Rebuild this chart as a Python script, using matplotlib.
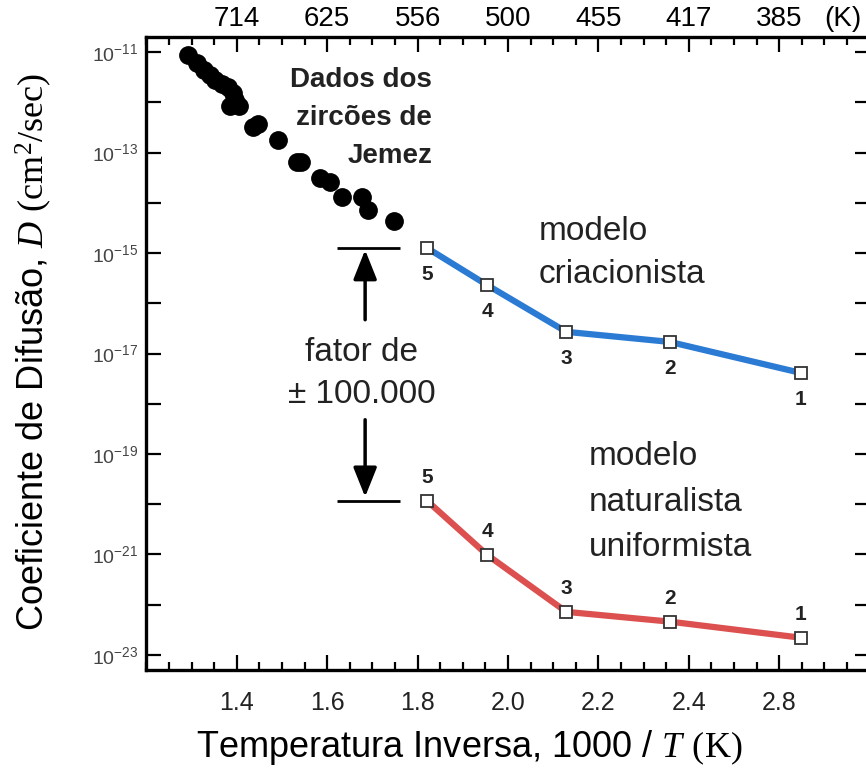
import matplotlib
matplotlib.use('Agg')
import matplotlib.pyplot as plt
from matplotlib.ticker import FixedLocator, MultipleLocator, NullLocator

plt.rcParams['font.family'] = ['Liberation Sans', 'DejaVu Sans']
plt.rcParams['mathtext.fontset'] = 'custom'
plt.rcParams['mathtext.rm'] = 'Liberation Serif'
plt.rcParams['mathtext.it'] = 'Liberation Serif:italic'
plt.rcParams['mathtext.sf'] = 'Liberation Sans'

# Jemez zircon data (1000/T, D in cm^2/sec)
jemez_x = [1.292, 1.312, 1.328, 1.341, 1.352, 1.367, 1.381, 1.392, 1.396, 1.385, 1.405,
           1.436, 1.447, 1.491, 1.533, 1.542, 1.584, 1.606, 1.633, 1.677, 1.690, 1.748]
jemez_D = [8.7e-12, 6.0e-12, 4.4e-12, 3.5e-12, 2.75e-12, 2.3e-12, 2.0e-12, 1.5e-12, 1.1e-12,
           8.5e-13, 8.5e-13, 3.2e-13, 3.7e-13, 1.8e-13, 6.5e-14, 6.5e-14, 3.1e-14, 2.6e-14,
           1.3e-14, 1.3e-14, 7.2e-15, 4.4e-15]

# the five samples, model predictions
sample_x = [1.821, 1.954, 2.129, 2.358, 2.648]
sample_ids = ['5', '4', '3', '2', '1']
creation_D = [1.26e-15, 2.3e-16, 2.7e-17, 1.7e-17, 4.1e-18]
uniform_D = [1.17e-20, 9.8e-22, 7.2e-23, 4.6e-23, 2.2e-23]

bottom_ticks = [1.4, 1.6, 1.8, 2.0, 2.2, 2.4, 2.6]
bottom_labels = ['1.4', '1.6', '1.8', '2.0', '2.2', '2.4', '2.8']
top_labels = ['714', '625', '556', '500', '455', '417', '385']
y_exponents = list(range(-23, -10))

blue = '#2b7bd4'
red = '#dc5050'

fig = plt.figure(figsize=(8.66, 7.78), dpi=100)
ax = fig.add_axes([146.3 / 866, 108 / 778, 723.4 / 866, 633.5 / 778])
ax.set_yscale('log')
ax.set_xlim(1.2, 2.8)
ax.set_ylim(10 ** -23.3, 10 ** -10.69)

ax.plot(jemez_x, jemez_D, 'o', color='black', ms=12.5, zorder=3)

ax.plot(sample_x, creation_D, '-', color=blue, lw=4.5, zorder=2)
ax.plot(sample_x, creation_D, 's', mfc='white', mec='#333333', mew=1.3, ms=8, zorder=4)
ax.plot(sample_x, uniform_D, '-', color=red, lw=4.5, zorder=2)
ax.plot(sample_x, uniform_D, 's', mfc='white', mec='#333333', mew=1.3, ms=8, zorder=4)

for x, yb, yr, s in zip(sample_x, creation_D, uniform_D, sample_ids):
    ax.annotate(s, (x, yb), xytext=(0, -19), textcoords='offset points',
                ha='center', va='center', fontsize=15, fontweight='bold', color='#222222')
    ax.annotate(s, (x, yr), xytext=(0, 17), textcoords='offset points',
                ha='center', va='center', fontsize=15, fontweight='bold', color='#222222')

# factor bars and arrows
ax.hlines([creation_D[0], uniform_D[0]], 1.622, 1.761, color='black', lw=2)
arrow = dict(arrowstyle='-|>,head_length=1.0,head_width=0.4', mutation_scale=18,
             lw=2.5, color='black', shrinkA=0, shrinkB=0)
ax.annotate('', xy=(1.684, 1.15e-15), xytext=(1.684, 4.7e-17), arrowprops=arrow)
ax.annotate('', xy=(1.684, 1.4e-20), xytext=(1.684, 4.8e-19), arrowprops=arrow)

ax.text(1.677, 4.0e-18, 'fator de\n± 100.000', ha='center', va='center',
        fontsize=24, linespacing=1.45, color='#222222')
ax.text(1.832, 5.0e-12, 'Dados dos\nzircões de\nJemez', ha='right', va='top',
        fontsize=20, fontweight='bold', linespacing=1.6, color='#222222')
ax.text(2.067, 1.0e-15, 'modelo\ncriacionista', ha='left', va='center',
        fontsize=24, linespacing=1.5, color='#222222')
ax.text(2.178, 1.1e-20, 'modelo\nnaturalista\nuniformista', ha='left', va='center',
        fontsize=24, linespacing=1.6, color='#222222')

# axes styling
for sp in ax.spines.values():
    sp.set_linewidth(2.4)

ax.xaxis.set_major_locator(FixedLocator(bottom_ticks))
ax.set_xticklabels(bottom_labels)
ax.xaxis.set_minor_locator(MultipleLocator(0.05))
ax.yaxis.set_major_locator(FixedLocator([10.0 ** e for e in y_exponents]))
ax.yaxis.set_minor_locator(NullLocator())
ax.set_yticklabels([r'$\mathsf{10^{%d}}$' % e if e % 2 else '' for e in y_exponents])

ax.tick_params(which='both', direction='in', top=True, right=True, width=1.6)
ax.tick_params(which='major', length=11)
ax.tick_params(which='minor', length=6)
ax.tick_params(axis='x', labelsize=18, pad=15, labelcolor='#222222')
ax.tick_params(axis='y', labelsize=14, pad=6, labelcolor='#444444')

top = ax.secondary_xaxis('top')
top.xaxis.set_major_locator(FixedLocator(bottom_ticks))
top.set_xticklabels(top_labels)
top.xaxis.set_minor_locator(NullLocator())
top.tick_params(direction='in', length=0, labelsize=20, pad=3)
top.spines['top'].set_visible(False)
ax.annotate('(K)', (2.741, 1.0), xycoords=('data', 'axes fraction'), xytext=(0, 3),
            textcoords='offset points', ha='center', va='bottom', fontsize=20)

ax.set_xlabel(r'Temperatura Inversa, 1000 / $T$ $\mathrm{(K)}$', fontsize=26)
ax.xaxis.set_label_coords(0.447, -0.092)
ax.set_ylabel(r'Coeficiente de Difusão, $D$ $\mathrm{(cm^2/sec)}$', fontsize=26)
ax.yaxis.set_label_coords(-0.127, 0.502)

fig.savefig('out.png', dpi=100)
